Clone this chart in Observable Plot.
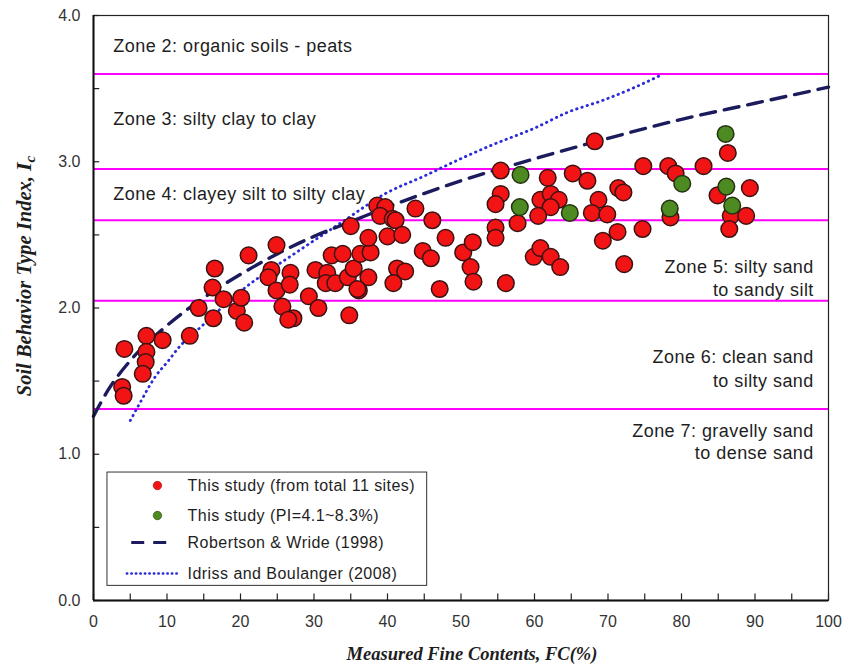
<!DOCTYPE html>
<html>
<head>
<meta charset="utf-8">
<script src="https://cdn.jsdelivr.net/npm/d3@7"></script>
<script src="https://cdn.jsdelivr.net/npm/@observablehq/plot@0.6"></script>
<style>
  html, body { margin: 0; padding: 0; background: #fff; }
  #chart { width: 846px; height: 666px; }
</style>
</head>
<body>
<div id="chart"></div>
<script>
// ---- Data ----
const redFC = [3.9,4.1,4.2,7.2,9.4,7.2,7.1,6.7,13.1,14.3,16.3,16.2,16.5,17.7,19.5,20.1,20.5,21.1,
  24.9,24.2,23.8,26.8,24.9,26.7,29.3,25.7,30.6,27.2,26.5,30.2,31.8,32.4,33.9,31.6,32.9,34.6,35.4,36.3,37.7,37.4,36.1,34.8,35.0,37.4,40.0,38.6,39.7,39.0,40.7,41.1,42.0,43.8,46.1,47.9,44.8,45.9,50.3,51.6,51.3,51.7,47.1,56.1,41.3,42.4,40.8,35.9,
  55.4,55.4,54.7,54.7,54.7,61.8,65.2,67.2,60.8,62.2,63.3,62.2,60.5,57.7,59.9,60.8,62.2,63.5,68.2,71.4,72.1,68.7,67.8,69.9,74.8,71.3,69.3,74.7,72.2,78.2,79.2,78.5,83.0,86.3,89.3,84.9,86.7,88.8,86.5];
const redIc = [1.46,1.40,1.72,1.81,1.78,1.70,1.63,1.55,1.81,2.00,1.93,2.14,2.27,2.06,1.98,2.07,1.90,2.36,
  2.43,2.26,2.21,2.24,2.12,2.16,2.08,2.01,2.00,1.93,1.92,2.26,2.24,2.36,2.37,2.17,2.17,2.21,2.27,2.37,2.38,2.21,2.12,1.95,2.56,2.48,2.49,2.70,2.69,2.63,2.61,2.60,2.50,2.68,2.60,2.48,2.39,2.34,2.38,2.45,2.28,2.18,2.13,2.17,2.27,2.25,2.17,2.13,
  2.94,2.78,2.71,2.55,2.48,2.89,2.92,2.87,2.74,2.78,2.74,2.69,2.63,2.58,2.35,2.41,2.35,2.28,3.14,2.82,2.79,2.74,2.65,2.64,2.97,2.52,2.46,2.54,2.30,2.97,2.92,2.62,2.97,3.06,2.82,2.77,2.63,2.63,2.54];
const greenFC = [58.1,58.0,64.8,78.4,80.1,86.0,86.1,86.9];
const greenIc = [2.91,2.69,2.65,2.68,2.85,3.19,2.83,2.70];
const rwFC = [0,2,5,10,15,20,25,30,35,40,50,60,70,80,90,100];
const rwIc = [1.26,1.44,1.64,1.88,2.07,2.23,2.37,2.49,2.59,2.69,2.87,3.02,3.16,3.29,3.40,3.51];
const ibFC = [5.0,6.2,8.4,10.2,11.6,14.6,20.4,27,33.6,40,44.9,49.5,54,60,64.6,69.3,73.7,77.5];
const ibIc = [1.23,1.34,1.53,1.64,1.73,1.87,2.13,2.36,2.58,2.79,2.90,3.01,3.11,3.23,3.34,3.42,3.51,3.60];
const zoneBounds = [3.6, 2.95, 2.6, 2.05, 1.31];
const zoneLeftText = ["Zone 2: organic soils - peats", "Zone 3: silty clay to clay", "Zone 4: clayey silt to silty clay"];
const zoneLeftIc = [3.79, 3.29, 2.78];
const zoneRightText = ["Zone 5: silty sand", "to sandy silt", "Zone 6: clean sand", "to silty sand", "Zone 7: gravelly sand", "to dense sand"];
const zoneRightIc = [2.28, 2.12, 1.66, 1.50, 1.16, 1.01];
const xTicks = [0,10,20,30,40,50,60,70,80,90,100];
const yTicks = [0,1,2,3,4];
const xMinor = [0,5,10,15,20,25,30,35,40,45,50,55,60,65,70,75,80,85,90,95,100];
const yMinor = [0,0.5,1,1.5,2,2.5,3,3.5,4];
const legendLabels = ["This study (from total 11 sites)", "This study (PI=4.1~8.3%)", "Robertson & Wride (1998)", "Idriss and Boulanger (2008)"];
const legendIc = [0.786, 0.581, 0.397, 0.185];

// ---- Tables built from the arrays ----
const red = redFC.map((x, i) => ({x, y: redIc[i]}));
const green = greenFC.map((x, i) => ({x, y: greenIc[i]}));
const rw = rwFC.map((x, i) => ({x, y: rwIc[i]}));
const ib = ibFC.map((x, i) => ({x, y: ibIc[i]}));
const zl = zoneLeftText.map((t, i) => ({t, y: zoneLeftIc[i]}));
const zr = zoneRightText.map((t, i) => ({t, y: zoneRightIc[i]}));
const leg = legendLabels.map((t, i) => ({t, y: legendIc[i]}));

const redFill = "#f21414", redStroke = "#3b1212";
const greenFill = "#4e8a22", greenStroke = "#23310f";
const rwColor = "#1b1b5e", ibColor = "#2b2bd8";

const chart = Plot.plot({
  width: 846,
  height: 666,
  marginLeft: 93,
  marginRight: 18,
  marginTop: 15,
  marginBottom: 66,
  x: {domain: [0, 100]},
  y: {domain: [0, 4]},
  style: {fontFamily: "'Liberation Sans', Arial, sans-serif", background: "#fff", overflow: "visible"},
  marks: [
    Plot.ruleY(zoneBounds, {stroke: "#ff00ff", strokeWidth: 2}),
    Plot.text(zl, {x: () => 2.7, y: "y", text: "t", textAnchor: "start", fontSize: 18, fill: "#1e1e1e"}),
    Plot.text(zr, {x: () => 98.0, y: "y", text: "t", textAnchor: "end", fontSize: 18, fill: "#1e1e1e"}),
    Plot.line(ib, {x: "x", y: "y", stroke: ibColor, strokeWidth: 2.8, strokeDasharray: "0.5,5", strokeLinecap: "round", curve: "monotone-x"}),
    Plot.line(rw, {x: "x", y: "y", stroke: rwColor, strokeWidth: 3.4, strokeDasharray: "15,9", curve: "monotone-x"}),
    Plot.dot(red, {x: "x", y: "y", r: 8.3, fill: redFill, stroke: redStroke, strokeWidth: 1.5}),
    Plot.dot(green, {x: "x", y: "y", r: 8.3, fill: greenFill, stroke: greenStroke, strokeWidth: 1.5}),
    // legend
    Plot.rect([0], {x1: () => 1.9, x2: () => 45.4, y1: () => 0.10, y2: () => 0.875, fill: "#fff", stroke: "#333", strokeWidth: 1}),
    Plot.dot([leg[0]], {x: () => 8.7, y: "y", r: 4.2, fill: redFill, stroke: "#b02020", strokeWidth: 0.8}),
    Plot.dot([leg[1]], {x: () => 8.7, y: "y", r: 4.2, fill: greenFill, stroke: "#3d5a18", strokeWidth: 0.8}),
    Plot.ruleY([leg[2]], {y: "y", x1: () => 5.2, x2: () => 10.4, stroke: rwColor, strokeWidth: 3, strokeDasharray: "13,9"}),
    Plot.ruleY([leg[3]], {y: "y", x1: () => 4.6, x2: () => 11.8, stroke: ibColor, strokeWidth: 2.4, strokeDasharray: "0.5,4", strokeLinecap: "round"}),
    Plot.text(leg, {x: () => 12.8, y: "y", text: "t", textAnchor: "start", fontSize: 16, fill: "#1e1e1e"}),
    // inward ticks
    Plot.ruleX(xMinor, {y1: () => 0, y2: () => 0.045, stroke: "#222", strokeWidth: 1.2}),
    Plot.ruleY(yMinor, {x1: () => 0, x2: () => 0.85, stroke: "#222", strokeWidth: 1.2}),
    Plot.frame({stroke: "#222", strokeWidth: 1.2}),
    Plot.ruleX([0], {stroke: "#111", strokeWidth: 2}),
    Plot.ruleY([0], {stroke: "#111", strokeWidth: 2}),
    Plot.axisX(xTicks, {tickSize: 0, tickPadding: 15, fontSize: 16, fill: "#333", label: null}),
    Plot.axisY(yTicks, {tickSize: 0, tickPadding: 13, fontSize: 16, fill: "#333", tickFormat: d => d.toFixed(1), label: null})
  ]
});

document.getElementById("chart").appendChild(chart);

// letter spacing for the zone and legend labels, as in the reference
d3.select(chart).selectAll("text").filter(function() {
  const t = this.textContent;
  return /^(Zone|to |This|Robertson|Idriss)/.test(t);
}).attr("letter-spacing", "0.45px");

// axis titles (bold italic serif, with subscript)
const svg = d3.select(chart);
svg.append("text")
  .attr("x", 472).attr("y", 660)
  .attr("text-anchor", "middle")
  .attr("font-family", "'Liberation Serif', 'Times New Roman', serif")
  .attr("font-weight", "bold").attr("font-style", "italic")
  .attr("font-size", 18.5).attr("fill", "#1e1e1e")
  .text("Measured Fine Contents, FC(%)");
const yt = svg.append("text")
  .attr("transform", "translate(31,276) rotate(-90)")
  .attr("text-anchor", "middle")
  .attr("font-family", "'Liberation Serif', 'Times New Roman', serif")
  .attr("font-weight", "bold").attr("font-style", "italic")
  .attr("font-size", 20.5).attr("fill", "#1e1e1e");
yt.append("tspan").text("Soil Behavior Type Index, ");
yt.append("tspan").attr("font-size", 22).text("I");
yt.append("tspan").attr("font-size", 15).attr("dy", 4).text("c");
</script>
</body>
</html>
